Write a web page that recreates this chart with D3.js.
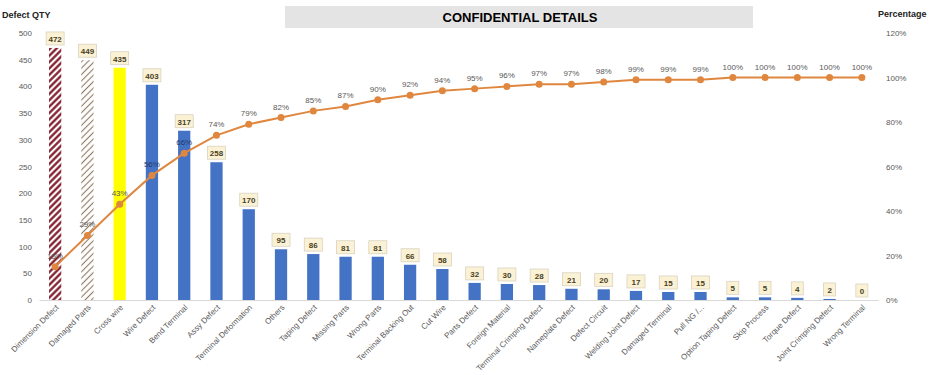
<!DOCTYPE html>
<html>
 <head>
  <title>Defect Pareto</title>
  <style>
  body {
   margin: 0;
   background-color: white;
  }
  svg text {
   font-family: "Liberation Sans", Arial, sans-serif;
  }
  </style>
  <script src="https://cdnjs.cloudflare.com/ajax/libs/d3/7.8.3/d3.min.js"></script>
 </head>

 <body>
  <script>
   const categories = ["Dimension Defect", "Damaged Parts", "Cross wire", "Wire Defect", "Bend Terminal",
                       "Assy Defect", "Terminal Deformation", "Others", "Taping Defect", "Missing Parts",
                       "Wrong Parts", "Terminal Backing Out", "Cut Wire", "Parts Defect", "Foreign Material",
                       "Terminal Crimping Defect", "Nameplate Defect", "Defect Circuit", "Welding Joint Defect",
                       "Damaged Terminal", "Pull NG /...", "Option Taping Defect", "Skip Process",
                       "Torque Defect", "Joint Crimping Defect", "Wrong Terminal"];
   const defectQty = [472, 449, 435, 403, 317, 258, 170, 95, 86, 81, 81, 66, 58, 32, 30, 28, 21, 20, 17,
                      15, 15, 5, 5, 4, 2, 0];
   const cumPercent = [15, 29, 43, 56, 66, 74, 79, 82, 85, 87, 90, 92, 94, 95, 96, 97, 97, 98, 99, 99, 99,
                       100, 100, 100, 100, 100];
   const qtyTicks = [0, 50, 100, 150, 200, 250, 300, 350, 400, 450, 500];
   const pctTicks = [0, 20, 40, 60, 80, 100, 120];

   const w = 933;
   const h = 375;
   const padL = 39;
   const padR = 878;
   const padT = 33;
   const padB = 300;

   const svg = d3.select("body")
                 .append("svg")
                 .attr("width", w)
                 .attr("height", h);

   const defs = svg.append("defs");
   const hatch = (id, color, size, sw) => {
    const p = defs.append("pattern")
                  .attr("id", id)
                  .attr("patternUnits", "userSpaceOnUse")
                  .attr("width", size)
                  .attr("height", size)
                  .attr("patternTransform", "rotate(45)");
    p.append("rect").attr("width", size).attr("height", size).attr("fill", "white");
    p.append("line")
     .attr("x1", size / 2).attr("y1", 0).attr("x2", size / 2).attr("y2", size)
     .attr("stroke", color)
     .attr("stroke-width", sw);
   };
   hatch("hatchRed", "#7d1424", 4.5, 2.2);
   hatch("hatchBrown", "#8f7a63", 4.5, 1.1);

   const barFill = (i) => {
    if (i === 0) return "url(#hatchRed)";
    if (i === 1) return "url(#hatchBrown)";
    if (i === 2) return "#ffff00";
    return "#4472c4";
   };

   const xScale = d3.scaleBand()
                    .domain(categories)
                    .range([padL, padR])
                    .paddingInner(0.62)
                    .paddingOuter(0.31);
   const yScale = d3.scaleLinear()
                    .domain([0, 500])
                    .range([padB, padT]);
   const pScale = d3.scaleLinear()
                    .domain([0, 120])
                    .range([padB, padT]);

   // title box
   svg.append("rect")
      .attr("x", 285)
      .attr("y", 6)
      .attr("width", 468)
      .attr("height", 22)
      .attr("fill", "#e4e4e4");
   svg.append("text")
      .attr("x", 520)
      .attr("y", 22)
      .attr("text-anchor", "middle")
      .style("font-size", "13px")
      .style("font-weight", "bold")
      .attr("fill", "#000")
      .text("CONFIDENTIAL DETAILS");

   svg.append("text")
      .attr("x", 2)
      .attr("y", 18)
      .style("font-size", "9px")
      .style("font-weight", "bold")
      .attr("fill", "#222")
      .text("Defect QTY");
   svg.append("text")
      .attr("x", 878)
      .attr("y", 17)
      .style("font-size", "9px")
      .style("font-weight", "bold")
      .attr("fill", "#222")
      .text("Percentage");

   // axes
   const yAxis = d3.axisLeft(yScale)
                   .tickValues(qtyTicks)
                   .tickSize(0)
                   .tickPadding(7);
   const gy = svg.append("g")
                 .attr("transform", "translate(" + padL + ",0)")
                 .call(yAxis);
   gy.select(".domain").remove();
   gy.selectAll("text").style("font-size", "8px").attr("fill", "#595959");

   const pAxis = d3.axisRight(pScale)
                   .tickValues(pctTicks)
                   .tickFormat(d => d + "%")
                   .tickSize(0)
                   .tickPadding(8);
   const gp = svg.append("g")
                 .attr("transform", "translate(" + padR + ",0)")
                 .call(pAxis);
   gp.select(".domain").remove();
   gp.selectAll("text").style("font-size", "8px").attr("fill", "#595959");

   const xAxis = d3.axisBottom(xScale)
                   .tickSize(0)
                   .tickPadding(0);
   const gx = svg.append("g")
                 .attr("transform", "translate(0," + padB + ")")
                 .call(xAxis);
   gx.select(".domain").attr("stroke", "#d9d9d9");
   gx.selectAll("text")
     .style("font-size", "8px")
     .attr("fill", "#595959")
     .attr("text-anchor", "end")
     .attr("dy", "0")
     .attr("transform", "translate(4,8) rotate(-45)");

   // bars
   svg.selectAll(".bar")
      .data(defectQty)
      .enter()
      .append("rect")
      .attr("class", "bar")
      .attr("x", (d, i) => xScale(categories[i]))
      .attr("y", d => yScale(d))
      .attr("width", xScale.bandwidth())
      .attr("height", d => padB - yScale(d))
      .attr("fill", (d, i) => barFill(i));

   // bar value labels
   const lab = svg.selectAll(".blab")
                  .data(defectQty)
                  .enter()
                  .append("g")
                  .attr("class", "blab")
                  .attr("transform", (d, i) => "translate(" + (xScale(categories[i]) + xScale.bandwidth() / 2) + "," + (yScale(d) - 9) + ")");
   lab.append("rect")
      .attr("x", d => String(d).length > 1 ? -9 : -6)
      .attr("y", -7)
      .attr("width", d => String(d).length > 1 ? 18 : 12)
      .attr("height", 13)
      .attr("fill", "#fbf2d6")
      .attr("stroke", "#d9d2be")
      .attr("stroke-width", 0.8);
   lab.append("text")
      .attr("y", 3)
      .attr("text-anchor", "middle")
      .style("font-size", "8px")
      .style("font-weight", "bold")
      .attr("fill", "#4a3f22")
      .text(d => d);

   // cumulative line
   const cx = (d, i) => xScale(categories[i]) + xScale.bandwidth() / 2;
   const line = d3.line()
                  .x(cx)
                  .y(d => pScale(d));
   svg.append("path")
      .datum(cumPercent)
      .attr("d", line)
      .attr("fill", "none")
      .attr("stroke", "#e0873f")
      .attr("stroke-width", 2);
   svg.selectAll(".dot")
      .data(cumPercent)
      .enter()
      .append("circle")
      .attr("class", "dot")
      .attr("cx", cx)
      .attr("cy", d => pScale(d))
      .attr("r", 3.5)
      .attr("fill", "#e0873f");
   svg.selectAll(".plab")
      .data(cumPercent)
      .enter()
      .append("text")
      .attr("class", "plab")
      .attr("x", cx)
      .attr("y", d => pScale(d) - 8)
      .attr("text-anchor", "middle")
      .style("font-size", "8px")
      .attr("fill", (d, i) => (i === 3 || i === 4) ? "#233a6b" : "#595959")
      .text(d => d + "%");
  </script>
 </body>
</html>
